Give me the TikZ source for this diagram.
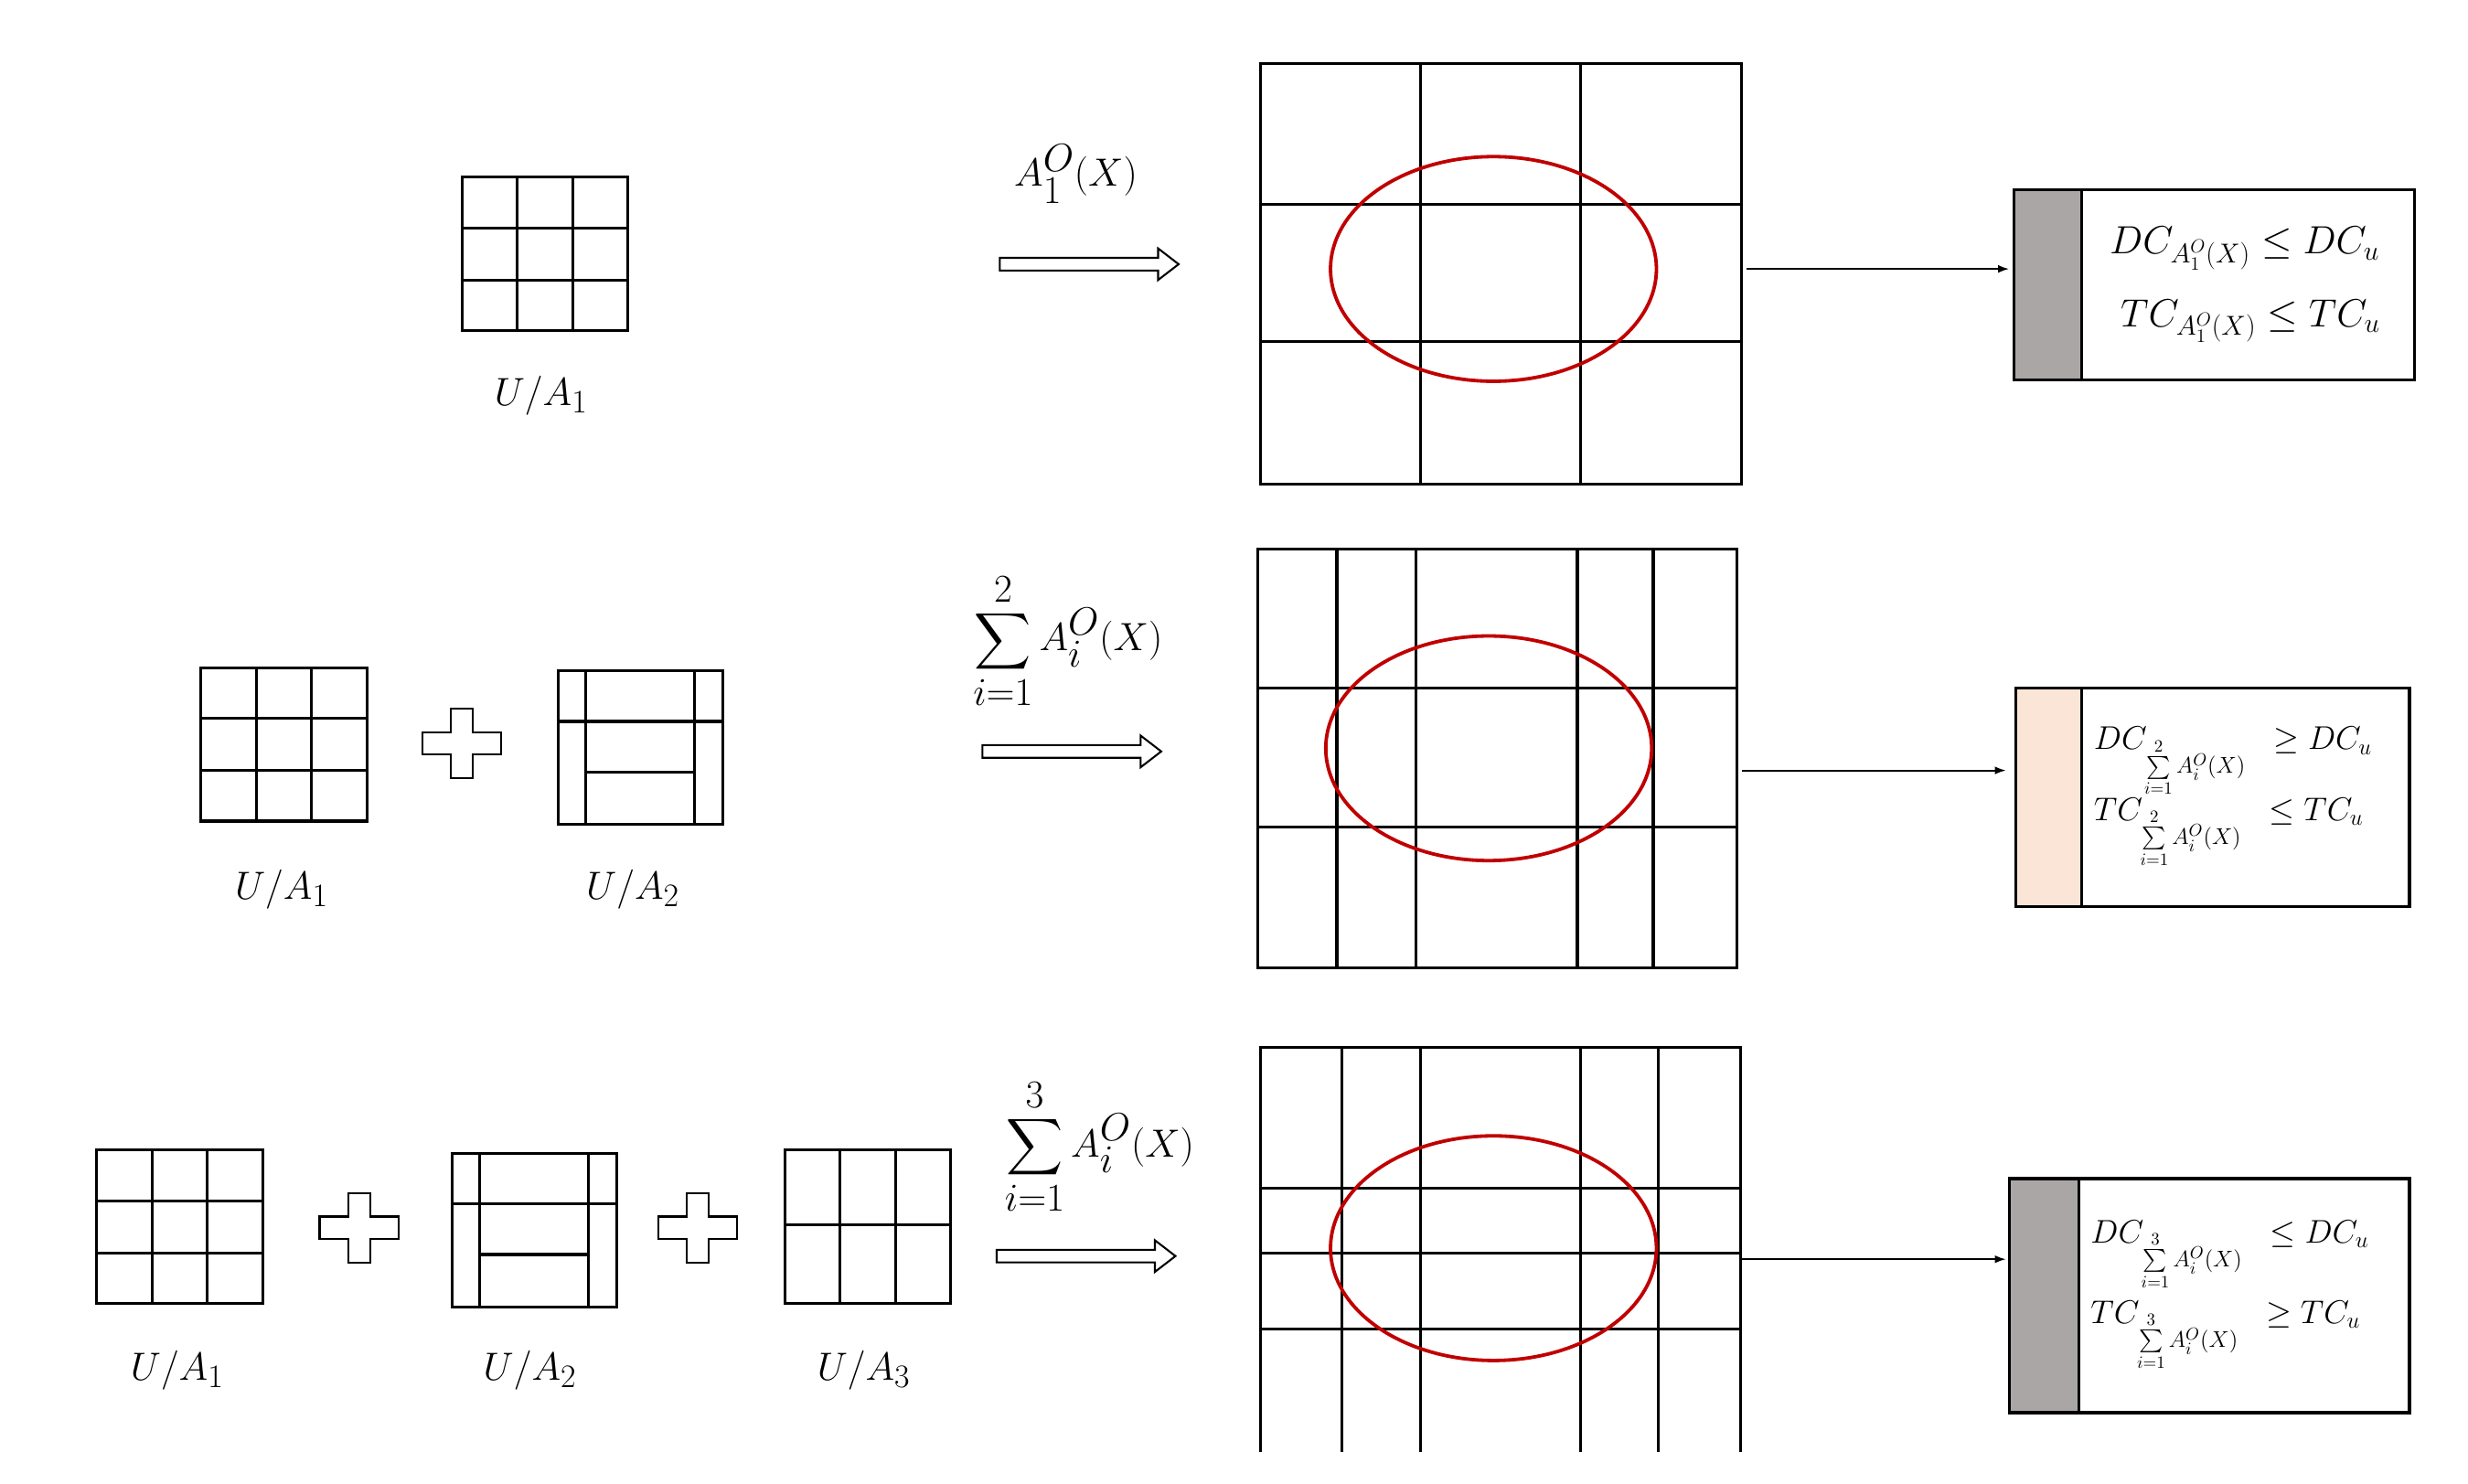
\documentclass[tikz,border=0pt]{standalone}
\usepackage{amsmath}
\usepackage{fontspec}
\setmainfont{Liberation Serif}
\usetikzlibrary{arrows.meta,shapes.arrows}
\begin{document}
\begin{tikzpicture}[x=1pt,y=-1pt,
  grid/.style={line width=1.8pt},
  ell/.style={draw={rgb,255:red,192;green,0;blue,0},line width=2.2pt},
  conn/.style={-{Latex[length=7pt,width=5pt]},line width=1.2pt},
  hollow/.style={draw,line width=1.2pt,fill=white},
  lbl/.style={font=\fontsize{30}{32}\selectfont},
  cond/.style={font=\fontsize{25}{28}\selectfont,align=left,anchor=west},
  condsm/.style={font=\fontsize{22}{25}\selectfont,align=left,anchor=west}]
\useasboundingbox (0,0) rectangle (1560,937.5);
\definecolor{grayb}{RGB}{171,166,166}
\definecolor{peach}{RGB}{251,229,214}
\newcommand{\hollowarrow}[2]{%
  \draw[hollow] (#1,#2-4) -- (#1+100,#2-4) -- (#1+100,#2-10) -- (#1+113,#2) -- (#1+100,#2+10) -- (#1+100,#2+4) -- (#1,#2+4) -- cycle;}
\newcommand{\plusshape}[2]{%
  \draw[line width=1.2pt] (#1-7,#2-22) -- (#1+7,#2-22) -- (#1+7,#2-7) -- (#1+25,#2-7) -- (#1+25,#2+7) -- (#1+7,#2+7) -- (#1+7,#2+22) -- (#1-7,#2+22) -- (#1-7,#2+7) -- (#1-25,#2+7) -- (#1-25,#2-7) -- (#1-7,#2-7) -- cycle;}
\newcommand{\gridA}[2]{%
  \draw[grid] (#1,#2) rectangle (#1+105,#2+97);
  \draw[grid] (#1+35,#2) -- (#1+35,#2+97) (#1+70,#2) -- (#1+70,#2+97)
    (#1,#2+32) -- (#1+105,#2+32) (#1,#2+65) -- (#1+105,#2+65);}
\newcommand{\gridB}[2]{%
  \draw[grid] (#1,#2) rectangle (#1+104,#2+97);
  \draw[grid] (#1+17,#2) -- (#1+17,#2+97) (#1+86,#2) -- (#1+86,#2+97)
    (#1,#2+32) -- (#1+104,#2+32) (#1+17,#2+64) -- (#1+86,#2+64);}
% ---------- Row 1
\gridA{292}{112}
\node[lbl] (l11) at (342,250) {$U/A_1$};
\node[lbl,font=\fontsize{33}{36}\selectfont] (s1) at (680,110) {$A_1^O(X)$};
\hollowarrow{632}{167}
\draw[grid] (797,40) rectangle (1101,306);
\draw[grid] (898,40) -- (898,306) (999,40) -- (999,306) (797,129) -- (1101,129) (797,216) -- (1101,216);
\draw[ell] (944,170) ellipse [x radius=103,y radius=71];
\coordinate (g1) at (1104,170);
\draw[fill=grayb,line width=1.8pt] (1273,120) rectangle (1316,240);
\draw[line width=1.8pt] (1316,120) rectangle (1526,240);
\node[cond] (b1) at (1330,180) {$DC_{A_1^O(X)}\le DC_u$\\[18pt] $\;TC_{A_1^O(X)}\le TC_u$};
\coordinate (b1w) at (1270,170);
\draw[conn] (g1) -- (b1w);
% ---------- Row 2
\gridA{127}{422}
\plusshape{292}{470}
\gridB{353}{424}
\node[lbl] (l21) at (178,562) {$U/A_1$};
\node[lbl] (l22) at (400,562) {$U/A_2$};
\node[lbl,font=\fontsize{33}{36}\selectfont] (s2) at (675,405) {$\displaystyle\sum_{i=1}^{2}A_i^O(X)$};
\hollowarrow{621}{475}
\draw[grid] (795,347) rectangle (1098,612);
\draw[grid] (845,347) -- (845,612) (895,347) -- (895,612) (997,347) -- (997,612) (1045,347) -- (1045,612)
  (795,435) -- (1098,435) (795,523) -- (1098,523);
\draw[ell] (941,473) ellipse [x radius=103,y radius=71];
\coordinate (g2) at (1101,487);
\draw[fill=peach,line width=1.8pt] (1274,435) rectangle (1316,573);
\draw[line width=1.8pt] (1316,435) rectangle (1523,573);
\node[condsm] (b2) at (1320,504) {$DC_{\sum\limits_{i=1}^{2}A_i^O(X)}\;\;\ge DC_u$\\[0pt] $TC_{\sum\limits_{i=1}^{2}A_i^O(X)}\;\;\le TC_u$};
\coordinate (b2w) at (1268,487);
\draw[conn] (g2) -- (b2w);
% ---------- Row 3
\gridA{61}{727}
\plusshape{227}{776}
\gridB{286}{729}
\plusshape{441}{776}
\draw[grid] (496,727) rectangle (601,824);
\draw[grid] (531,727) -- (531,824) (566,727) -- (566,824) (496,774) -- (601,774);
\node[lbl] (l31) at (112,866) {$U/A_1$};
\node[lbl] (l32) at (335,866) {$U/A_2$};
\node[lbl] (l33) at (546,866) {$U/A_3$};
\node[lbl,font=\fontsize{33}{36}\selectfont] (s3) at (695,725) {$\displaystyle\sum_{i=1}^{3}A_i^O(X)$};
\hollowarrow{630}{794}
\draw[grid] (797,918) -- (797,662) -- (1100,662) -- (1100,918);
\draw[grid] (848,662) -- (848,918) (898,662) -- (898,918) (999,662) -- (999,918) (1048,662) -- (1048,918)
  (797,751) -- (1100,751) (797,792) -- (1100,792) (797,840) -- (1100,840);
\draw[ell] (944,789) ellipse [x radius=103,y radius=71];
\coordinate (g3) at (1101,796);
\draw[fill=grayb,line width=1.8pt] (1270,745) rectangle (1314,893);
\draw[line width=1.8pt] (1314,745) rectangle (1523,893);
\node[condsm] (b3) at (1318,819) {$DC_{\sum\limits_{i=1}^{3}A_i^O(X)}\;\;\le DC_u$\\[6pt] $TC_{\sum\limits_{i=1}^{3}A_i^O(X)}\;\;\ge TC_u$};
\coordinate (b3w) at (1268,796);
\draw[conn] (g3) -- (b3w);
\end{tikzpicture}
\end{document}
